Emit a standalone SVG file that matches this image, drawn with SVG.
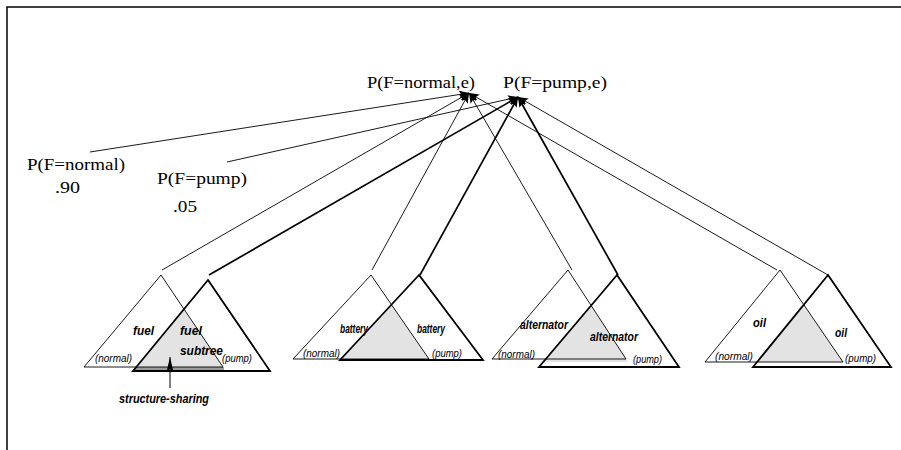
<svg xmlns="http://www.w3.org/2000/svg" width="901" height="450" viewBox="0 0 901 450">
  <style>
    .frame { fill: none; stroke: #000; stroke-width: 1.5; }
    .serif { font-family: "Liberation Serif", "Times New Roman", serif; font-size: 17px; fill: #000; }
    .tn { fill: none; stroke: #000; stroke-width: 0.9; }
    .tp { fill: none; stroke: #000; stroke-width: 1.8; }
    .share { fill: #e3e3e3; stroke: none; }
    .name { font-family: "Liberation Sans", Arial, sans-serif; font-size: 12px; font-style: italic; font-weight: bold; fill: #000; }
    .val { font-family: "Liberation Sans", Arial, sans-serif; font-size: 10.5px; font-style: italic; fill: #000; }
    .c { fill: none; stroke: #000; stroke-width: 0.9; marker-end: url(#ah); }
    .ck { fill: none; stroke: #000; stroke-width: 1.7; marker-end: url(#ah); }
  </style>
  <defs>
    <marker id="ah" markerUnits="userSpaceOnUse" markerWidth="12" markerHeight="8" refX="10" refY="4" orient="auto">
      <path d="M0,0 L10,4 L0,8 L2,4 z" fill="#000"/>
    </marker>
    <marker id="up" markerUnits="userSpaceOnUse" markerWidth="16" markerHeight="8" refX="15" refY="4" orient="auto">
      <path d="M0,0.5 L15,4 L0,7.5 L3,4 z" fill="#000"/>
    </marker>
  </defs>

  <!-- page frame -->
  <path class="frame" d="M7,450 L7,7 L901,7"/>

  <!-- posterior results -->
  <g id="post-normal"><text class="serif" x="367" y="88" textLength="108" lengthAdjust="spacingAndGlyphs">P(F=normal,e)</text></g>
  <g id="post-pump"><text class="serif" x="503" y="88" textLength="104" lengthAdjust="spacingAndGlyphs">P(F=pump,e)</text></g>

  <!-- priors -->
  <g id="prior-normal">
    <text class="serif" x="27" y="170" textLength="98" lengthAdjust="spacingAndGlyphs">P(F=normal)</text>
    <text class="serif" x="55" y="193" textLength="25" lengthAdjust="spacingAndGlyphs">.90</text>
  </g>
  <g id="prior-pump">
    <text class="serif" x="157" y="184" textLength="90" lengthAdjust="spacingAndGlyphs">P(F=pump)</text>
    <text class="serif" x="173" y="212" textLength="24" lengthAdjust="spacingAndGlyphs">.05</text>
  </g>

  <!-- fuel -->
  <g id="fuel">
    <polygon class="share" points="184,310 136,367 223,367"/>
    <rect x="135" y="367" width="89" height="3.5" fill="#9a9a9a"/>
    <polygon class="tn" points="161,275 84,367 223,367"/>
    <polygon class="tp" points="208,280 133,371 270,371"/>
    <text class="name" x="133" y="335" textLength="21" lengthAdjust="spacingAndGlyphs">fuel</text>
    <text class="name" x="180" y="335" textLength="22" lengthAdjust="spacingAndGlyphs">fuel</text>
    <text class="name" x="180" y="355" textLength="43" lengthAdjust="spacingAndGlyphs">subtree</text>
    <text class="val" x="95" y="362" textLength="37" lengthAdjust="spacingAndGlyphs">(normal)</text>
    <text class="val" x="222" y="362" textLength="30" lengthAdjust="spacingAndGlyphs">(pump)</text>
  </g>

  <!-- structure-sharing note -->
  <g id="sharing">
    <line x1="170" y1="388" x2="170" y2="357" stroke="#000" stroke-width="1" marker-end="url(#up)"/>
    <text class="name" x="119" y="403" textLength="90" lengthAdjust="spacingAndGlyphs">structure-sharing</text>
  </g>

  <!-- battery -->
  <g id="battery">
    <polygon class="share" points="391.5,304.6 341,359 429,359"/>
    <polygon class="tn" points="371,275 293,359 429,359"/>
    <polygon class="tp" points="419,275 340,360 483,360"/>
    <text class="name" x="340" y="333" textLength="28" lengthAdjust="spacingAndGlyphs">battery</text>
    <text class="name" x="417" y="333" textLength="28" lengthAdjust="spacingAndGlyphs">battery</text>
    <text class="val" x="303" y="357" textLength="37" lengthAdjust="spacingAndGlyphs">(normal)</text>
    <text class="val" x="432" y="357" textLength="30" lengthAdjust="spacingAndGlyphs">(pump)</text>
  </g>

  <!-- alternator -->
  <g id="alternator">
    <polygon class="share" points="591,305.4 543,362 628,362"/>
    <polygon class="tn" points="568,270 492,359 626,359"/>
    <polygon class="tp" points="617,275 539,367 679,367"/>
    <text class="name" x="520" y="329" textLength="48" lengthAdjust="spacingAndGlyphs">alternator</text>
    <text class="name" x="590" y="341" textLength="48" lengthAdjust="spacingAndGlyphs">alternator</text>
    <text class="val" x="498" y="358" textLength="37" lengthAdjust="spacingAndGlyphs">(normal)</text>
    <text class="val" x="633" y="363" textLength="29" lengthAdjust="spacingAndGlyphs">(pump)</text>
  </g>

  <!-- oil -->
  <g id="oil">
    <polygon class="share" points="804,305 757,362 843,362"/>
    <polygon class="tn" points="780,270 705,362 843,362"/>
    <polygon class="tp" points="828,275 753,367 891,367"/>
    <text class="name" x="753" y="327" textLength="13" lengthAdjust="spacingAndGlyphs">oil</text>
    <text class="name" x="835" y="337" textLength="12" lengthAdjust="spacingAndGlyphs">oil</text>
    <text class="val" x="715" y="360" textLength="38" lengthAdjust="spacingAndGlyphs">(normal)</text>
    <text class="val" x="845" y="362" textLength="31" lengthAdjust="spacingAndGlyphs">(pump)</text>
  </g>

  <!-- connectors -->
  <g id="connectors">
    <line class="c" x1="90" y1="152" x2="469" y2="93"/>
    <line class="c" x1="227" y1="162" x2="518" y2="97"/>
    <line class="c" x1="162" y1="270" x2="469" y2="93"/>
    <line class="ck" x1="209" y1="275" x2="518" y2="97"/>
    <line class="c" x1="372" y1="270" x2="469" y2="93"/>
    <line class="ck" x1="420" y1="275" x2="518" y2="97"/>
    <line class="c" x1="572" y1="270" x2="469" y2="93"/>
    <line class="ck" x1="618" y1="275" x2="518" y2="97"/>
    <line class="c" x1="777" y1="270" x2="469" y2="93"/>
    <line class="c" x1="828" y1="275" x2="518" y2="97"/>
  </g>
</svg>
